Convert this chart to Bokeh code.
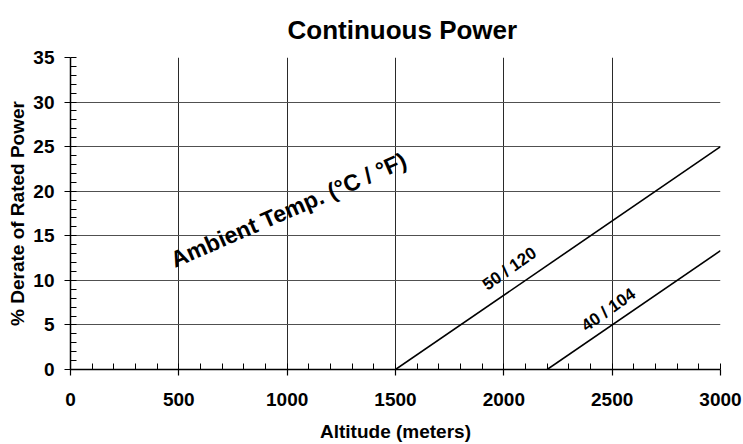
from bokeh.plotting import figure
from bokeh.models import Range1d, Label, FixedTicker
from bokeh.embed import file_html
from bokeh.resources import INLINE

# Data
altitude_50 = [1500, 3000]
derate_50 = [0, 25]
altitude_40 = [2200, 3000]
derate_40 = [0, 13.33]
label_50 = "50 / 120"
label_40 = "40 / 104"
x_ticks = [0, 500, 1000, 1500, 2000, 2500, 3000]
y_ticks = [0, 5, 10, 15, 20, 25, 30, 35]
x_minor = list(range(0, 3001, 100))
y_minor = list(range(0, 36, 1))

FONT = "Liberation Sans"

p = figure(width=743, height=444, output_backend="svg", toolbar_location=None,
           x_range=Range1d(0, 3000), y_range=Range1d(0, 35),
           min_border_left=70, min_border_right=23, min_border_top=57, min_border_bottom=68,
           title="Continuous Power")
p.outline_line_color = None
p.background_fill_color = "white"
p.border_fill_color = "white"

p.title.text_font = FONT
p.title.text_font_size = "26px"
p.title.text_font_style = "bold"
p.title.text_color = "black"
p.title.align = "left"
p.title.offset = 217
p.title.standoff = 25

for ax in (p.xaxis[0], p.yaxis[0]):
    ax.axis_line_color = "black"
    ax.axis_line_width = 1.5
    ax.major_tick_line_color = "black"
    ax.minor_tick_line_color = "black"
    ax.major_tick_line_width = 1.2
    ax.major_label_text_font = FONT
    ax.major_label_text_font_style = "bold"
    ax.major_label_text_font_size = "19px"
    ax.major_label_text_color = "black"
    ax.axis_label_text_font = FONT
    ax.axis_label_text_font_style = "bold"
    ax.axis_label_text_font_size = "19px"
    ax.axis_label_text_color = "black"
    ax.major_tick_out = 6
    ax.major_tick_in = 0
    ax.minor_tick_in = 6
    ax.minor_tick_out = 0

p.xaxis.ticker = FixedTicker(ticks=x_ticks, minor_ticks=x_minor)
p.yaxis.ticker = FixedTicker(ticks=y_ticks, minor_ticks=y_minor)
p.xaxis.axis_label = "Altitude (meters)"
p.yaxis.axis_label = "% Derate of Rated Power"
p.xaxis.major_label_standoff = 17
p.yaxis.major_label_standoff = 10
p.xaxis.axis_label_standoff = 12
p.yaxis.axis_label_standoff = 2

p.xgrid.grid_line_color = "#2a2a2a"
p.ygrid.grid_line_color = "#505050"
p.xgrid.grid_line_width = 1
p.ygrid.grid_line_width = 1

p.line(altitude_50, derate_50, line_color="black", line_width=1.6)
p.line(altitude_40, derate_40, line_color="black", line_width=1.6)

p.add_layout(Label(x=2026, y=11.3, text=label_50, angle=35, angle_units="deg",
                   text_align="center", text_baseline="middle", text_color="black",
                   text_font=FONT, text_font_style="bold", text_font_size="17px"))
p.add_layout(Label(x=2483, y=6.7, text=label_40, angle=35, angle_units="deg",
                   text_align="center", text_baseline="middle", text_color="black",
                   text_font=FONT, text_font_style="bold", text_font_size="17px"))
p.add_layout(Label(x=1006, y=17.9, text="Ambient Temp. (°C / °F)", angle=23.5, angle_units="deg",
                   text_align="center", text_baseline="middle", text_color="black",
                   text_font=FONT, text_font_style="bold", text_font_size="23px"))

open("out.html", "w").write(file_html(p, INLINE))
